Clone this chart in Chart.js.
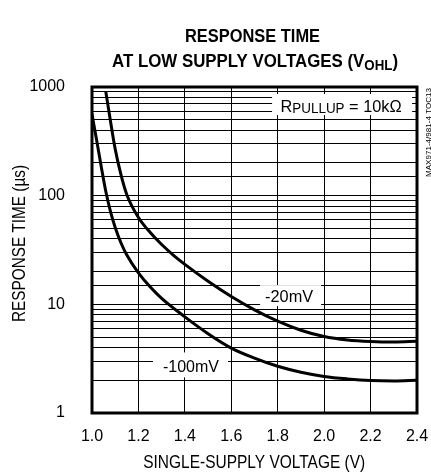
<!DOCTYPE html>
<html>
<head>
<meta charset="utf-8">
<script src="https://cdn.jsdelivr.net/npm/chart.js@4.4.1/dist/chart.umd.min.js"></script>
<style>
  html, body { margin: 0; padding: 0; background: #fff; }
  #wrap { width: 431px; height: 474px; }
</style>
</head>
<body>
<div id="wrap"><canvas id="c" width="431" height="474"></canvas></div>
<script>
// ---- data ----
const voltage20 = [1.06, 1.08, 1.10, 1.125, 1.15, 1.20, 1.25, 1.30, 1.35, 1.40, 1.50, 1.60, 1.70, 1.80, 1.90, 2.00, 2.10, 2.20, 2.30, 2.40];
const time20    = [890,  480,  268,  155,   102,  63,   46,   35.5, 28.4, 23.3, 16.3, 11.8, 8.9,  7.0,  5.78, 5.05, 4.70, 4.55, 4.5,  4.57];
const voltage100 = [1.00, 1.02, 1.04, 1.06, 1.08, 1.10, 1.125, 1.15, 1.20, 1.25, 1.30, 1.40, 1.50, 1.60, 1.70, 1.80, 1.90, 2.00, 2.10, 2.20, 2.30, 2.40];
const time100    = [560,  324,  184,  108,  71,   51,   36.7,  28.5, 19.5, 14.5, 11.35, 7.67, 5.37, 3.96, 3.2, 2.69, 2.37, 2.17, 2.06, 1.99, 1.97, 2.0];
const seriesNames = ['-20mV', '-100mV'];
const xTickValues = [1.0, 1.2, 1.4, 1.6, 1.8, 2.0, 2.2, 2.4];
const yTickLabels = [1, 10, 100, 1000];
const titleLine1 = 'RESPONSE TIME';
const titleLine2 = ['AT LOW SUPPLY VOLTAGES (V', 'OHL', ')'];
const xTitle = 'SINGLE-SUPPLY VOLTAGE (V)';
const yTitle = 'RESPONSE TIME (µs)';
const sideNote = 'MAX971-4/981-4 TOC13';
// label anchors in data units
const label20 = { x: 1.849, y: 11.9 };
const label100 = { x: 1.4265, y: 2.74 };
const labelR = { x: 2.073, y: 668 };

const FAM = '"Liberation Sans", Arial, sans-serif';

function toPts(xs, ys) { return xs.map((v, i) => ({ x: v, y: ys[i] })); }

function drawRuns(ctx, runs, x, baseline, targetW, align) {
  let w = 0;
  runs.forEach(r => { ctx.font = r.font; r.w = ctx.measureText(r.t).width; w += r.w; });
  const sx = targetW ? targetW / w : 1;
  const tw = w * sx;
  const start = align === 'center' ? x - tw / 2 : (align === 'right' ? x - tw : x);
  ctx.save();
  ctx.translate(start, baseline);
  ctx.scale(sx, 1);
  ctx.textAlign = 'left';
  ctx.textBaseline = 'alphabetic';
  ctx.fillStyle = '#000';
  let cx = 0;
  runs.forEach(r => { ctx.font = r.font; ctx.fillText(r.t, cx, r.dy || 0); cx += r.w; });
  ctx.restore();
}

const deco = {
  id: 'deco',
  beforeDatasetsDraw(chart) {
    const ctx = chart.ctx;
    const xs = chart.scales.x, ys = chart.scales.y;
    // -20mV label
    let px = xs.getPixelForValue(label20.x), py = ys.getPixelForValue(label20.y);
    ctx.fillStyle = '#fff';
    ctx.fillRect(px - 29, py - 11, 61, 21);
    drawRuns(ctx, [{ t: seriesNames[0], font: '16px ' + FAM }], px, py + 6, 48, 'center');
    // -100mV label
    px = xs.getPixelForValue(label100.x); py = ys.getPixelForValue(label100.y);
    ctx.fillStyle = '#fff';
    ctx.fillRect(px - 38, py - 13, 75, 25);
    drawRuns(ctx, [{ t: seriesNames[1], font: '16px ' + FAM }], px, py + 6.5, 56, 'center');
    // RPULLUP label
    px = xs.getPixelForValue(labelR.x); py = ys.getPixelForValue(labelR.y);
    ctx.fillStyle = '#fff';
    ctx.fillRect(px - 69, py - 12, 140, 21);
    drawRuns(ctx, [
      { t: 'R', font: '17px ' + FAM },
      { t: 'PULLUP', font: '14px ' + FAM, dy: 1.6 },
      { t: ' = 10kΩ', font: '17px ' + FAM }
    ], px, py + 5.7, 121, 'center');
  },
  afterDraw(chart) {
    const ctx = chart.ctx;
    const a = chart.chartArea;
    // frame
    ctx.save();
    ctx.strokeStyle = '#000';
    ctx.lineWidth = 3;
    ctx.strokeRect(a.left, a.top, a.right - a.left, a.bottom - a.top);
    ctx.restore();
    // title
    drawRuns(ctx, [{ t: titleLine1, font: 'bold 19px ' + FAM }], 252.5, 41.7, 135, 'center');
    drawRuns(ctx, [
      { t: titleLine2[0], font: 'bold 19px ' + FAM },
      { t: titleLine2[1], font: 'bold 15px ' + FAM, dy: 3.3 },
      { t: titleLine2[2], font: 'bold 19px ' + FAM }
    ], 255, 66.7, 286, 'center');
    // x title
    drawRuns(ctx, [{ t: xTitle, font: '18px ' + FAM }], 254.2, 468, 222, 'center');
    // y title (rotated)
    ctx.save();
    ctx.translate(25, 243.5);
    ctx.rotate(-Math.PI / 2);
    drawRuns(ctx, [{ t: yTitle, font: '18px ' + FAM }], 0, 0, 157, 'center');
    ctx.restore();
    // side note
    ctx.save();
    ctx.translate(430.5, 132.5);
    ctx.rotate(-Math.PI / 2);
    drawRuns(ctx, [{ t: sideNote, font: '8px ' + FAM }], 0, 0, 89, 'center');
    ctx.restore();
  }
};

new Chart(document.getElementById('c'), {
  type: 'line',
  data: {
    datasets: [
      { label: seriesNames[0], data: toPts(voltage20, time20) },
      { label: seriesNames[1], data: toPts(voltage100, time100) }
    ]
  },
  options: {
    responsive: false,
    animation: false,
    devicePixelRatio: 1,
    layout: { padding: { left: 0, top: 87, right: 14, bottom: 0 } },
    elements: {
      point: { radius: 0 },
      line: { borderColor: '#000', borderWidth: 3, cubicInterpolationMode: 'monotone', fill: false, borderCapStyle: 'round', borderJoinStyle: 'round' }
    },
    plugins: { legend: { display: false }, tooltip: { enabled: false }, title: { display: false } },
    scales: {
      x: {
        type: 'linear', min: 1.0, max: 2.4,
        afterBuildTicks(s) { s.ticks = xTickValues.map(v => ({ value: v })); },
        ticks: { callback: v => Number(v).toFixed(1), font: { size: 16, family: FAM }, color: '#000', padding: 14, maxRotation: 0, autoSkip: false },
        grid: { color: '#000', lineWidth: 1, drawTicks: false },
        border: { display: false },
        afterFit(s) { s.height = 61; s.paddingLeft = 0; s.paddingRight = 0; }
      },
      y: {
        type: 'logarithmic', min: 1, max: 1000,
        ticks: { autoSkip: false, callback: v => yTickLabels.includes(v) ? String(v) : '', font: { size: 16, family: FAM }, color: '#000', padding: 27 },
        grid: { color: '#000', lineWidth: 1, drawTicks: false },
        border: { display: false },
        afterFit(s) { s.width = 92; s.paddingTop = 0; s.paddingBottom = 0; }
      }
    }
  },
  plugins: [deco]
});
</script>
</body>
</html>
